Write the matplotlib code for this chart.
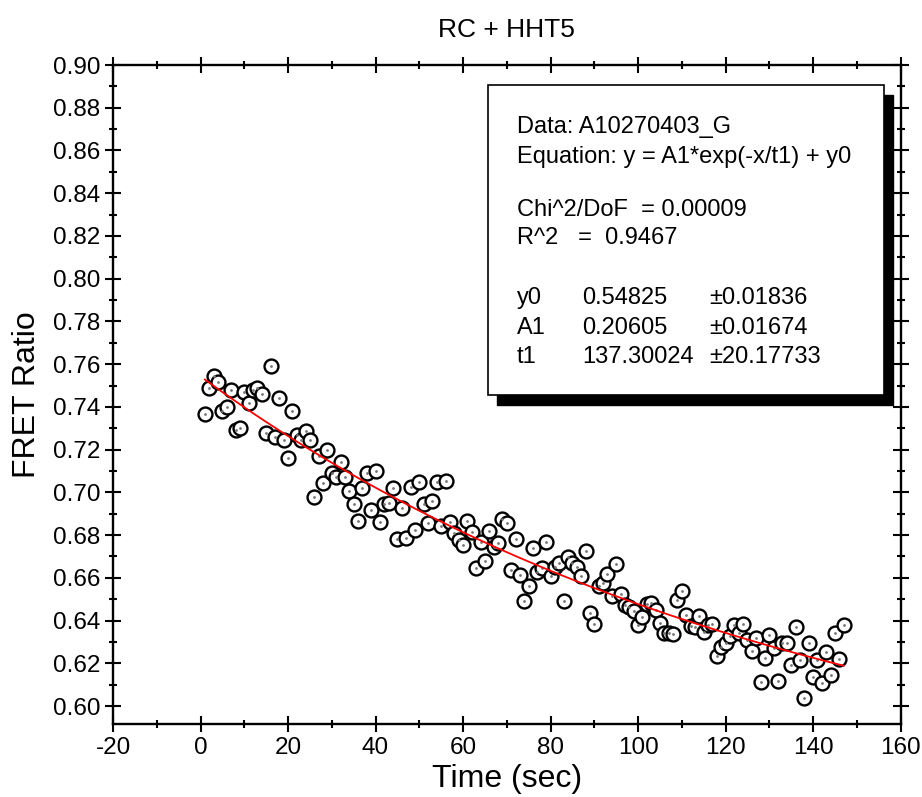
import matplotlib as mpl
mpl.use("Agg")
import matplotlib.pyplot as plt
from matplotlib.patches import Rectangle
from matplotlib.ticker import MultipleLocator
import numpy as np

plt.rcParams['font.family'] = ['Liberation Sans', 'DejaVu Sans']
plt.rcParams['axes.unicode_minus'] = False

# measured FRET ratio, one sample per second
time_sec = np.arange(1, 148)
fret = [
    0.7365, 0.7490, 0.7544, 0.7516, 0.7380, 0.7400, 0.7480, 0.7290, 0.7300, 0.7470,
    0.7420, 0.7480, 0.7490, 0.7460, 0.7280, 0.7590, 0.7260, 0.7440, 0.7245, 0.7160,
    0.7380, 0.7270, 0.7245, 0.7286, 0.7245, 0.6980, 0.7170, 0.7045, 0.7200, 0.7090,
    0.7070, 0.7140, 0.7070, 0.7008, 0.6944, 0.6866, 0.7022, 0.7092, 0.6917, 0.7100,
    0.6863, 0.6945, 0.6949, 0.7019, 0.6780, 0.6928, 0.6785, 0.7026, 0.6824, 0.7048,
    0.6944, 0.6855, 0.6960, 0.7048, 0.6842, 0.7054, 0.6863, 0.6808, 0.6779, 0.6752,
    0.6864, 0.6813, 0.6646, 0.6768, 0.6679, 0.6820, 0.6743, 0.6764, 0.6874, 0.6855,
    0.6637, 0.6780, 0.6613, 0.6493, 0.6562, 0.6738, 0.6629, 0.6645, 0.6768, 0.6610,
    0.6652, 0.6671, 0.6493, 0.6696, 0.6671, 0.6649, 0.6610, 0.6727, 0.6434, 0.6382,
    0.6562, 0.6574, 0.6616, 0.6515, 0.6665, 0.6524, 0.6473, 0.6465, 0.6447, 0.6379,
    0.6419, 0.6477, 0.6483, 0.6449, 0.6391, 0.6343, 0.6342, 0.6339, 0.6496, 0.6540,
    0.6426, 0.6374, 0.6371, 0.6421, 0.6348, 0.6379, 0.6382, 0.6234, 0.6278, 0.6296,
    0.6328, 0.6379, 0.6340, 0.6382, 0.6309, 0.6259, 0.6317, 0.6114, 0.6226, 0.6332,
    0.6270, 0.6118, 0.6296, 0.6296, 0.6192, 0.6368, 0.6215, 0.6036, 0.6296, 0.6134,
    0.6215, 0.6106, 0.6254, 0.6145, 0.6340, 0.6220, 0.6379,
]

# fit parameters: y = A1*exp(-x/t1) + y0
y0 = 0.54825
A1 = 0.20605
t1 = 137.30024

fit_info = ["Data: A10270403_G", "Equation: y = A1*exp(-x/t1) + y0",
            "Chi^2/DoF  = 0.00009", "R^2   =  0.9467"]
param_names = ["y0", "A1", "t1"]
param_vals = ["0.54825", "0.20605", "137.30024"]
param_errs = ["\u00b10.01836", "\u00b10.01674", "\u00b120.17733"]

W, H = 922, 797
fig = plt.figure(figsize=(W / 100, H / 100), dpi=100)

def fx(px):
    return px / W

def fy(py):
    return 1 - py / H

ax = fig.add_axes([fx(113), fy(724), fx(900.5) - fx(113), fy(65) - fy(724)])

ax.plot(time_sec, fret, 'o', ms=10, mfc='white', mec='black', mew=1.7, zorder=3)
ax.plot(time_sec, fret, '.', ms=2, color='#777777', zorder=4)

xfit = np.linspace(time_sec[0], time_sec[-1], 300)
ax.plot(xfit, A1 * np.exp(-xfit / t1) + y0, color='red', lw=1.3, zorder=5)

ax.set_xlim(-20, 160)
ax.set_ylim(0.5916, 0.90)
ax.xaxis.set_major_locator(MultipleLocator(20))
ax.xaxis.set_minor_locator(MultipleLocator(10))
ax.yaxis.set_major_locator(MultipleLocator(0.02))
ax.yaxis.set_minor_locator(MultipleLocator(0.01))
ax.yaxis.set_major_formatter(mpl.ticker.FormatStrFormatter('%.2f'))
ax.tick_params(which='both', direction='inout', width=1.5, labelsize=17.5,
               top=True, right=True)
ax.tick_params(which='major', length=11)
ax.tick_params(which='minor', length=6)
for s in ax.spines.values():
    s.set_linewidth(1.7)

ax.set_xlabel("Time (sec)", fontsize=23, labelpad=4)
ax.set_ylabel("FRET Ratio", fontsize=23, labelpad=8)
ax.set_title("RC + HHT5", fontsize=19, pad=20)

# fit report box with drop shadow
shadow = Rectangle((fx(497), fy(405)), fx(893) - fx(497), fy(95) - fy(405),
                   transform=fig.transFigure, facecolor='black', edgecolor='black', zorder=10)
box = Rectangle((fx(488), fy(395)), fx(884) - fx(488), fy(85) - fy(395),
                transform=fig.transFigure, facecolor='white', edgecolor='black',
                lw=1.2, zorder=11)
fig.add_artist(shadow)
fig.add_artist(box)

line_y = [127, 157, 210, 238]
for txt, py in zip(fit_info, line_y):
    fig.text(fx(517), fy(py), txt, fontsize=17, va='center', zorder=12)
for i, py in enumerate([298, 328, 357]):
    fig.text(fx(517), fy(py), param_names[i], fontsize=17, va='center', zorder=12)
    fig.text(fx(582), fy(py), param_vals[i], fontsize=17, va='center', zorder=12)
    fig.text(fx(709), fy(py), param_errs[i], fontsize=17, va='center', zorder=12)

fig.savefig("out.png", dpi=100)
